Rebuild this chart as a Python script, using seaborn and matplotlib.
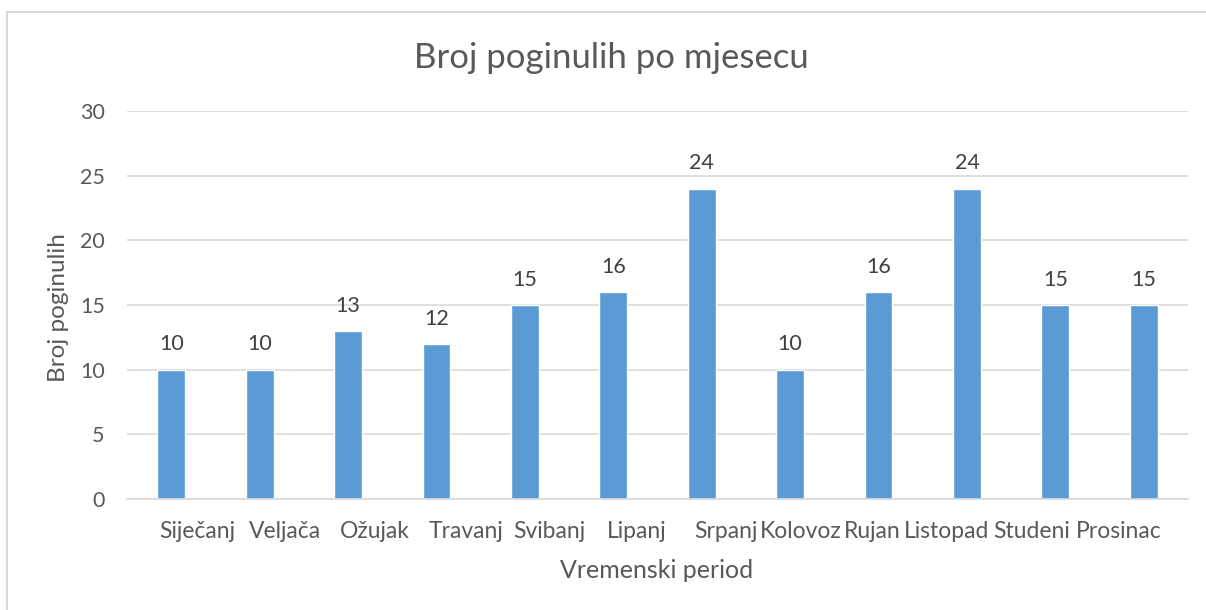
import numpy as np
import pandas as pd
import matplotlib
matplotlib.use("Agg")
import matplotlib.pyplot as plt
import matplotlib.transforms as mtransforms
from matplotlib.lines import Line2D
import seaborn as sns

# data
months = ["Siječanj", "Veljača", "Ožujak", "Travanj", "Svibanj", "Lipanj",
          "Srpanj", "Kolovoz", "Rujan", "Listopad", "Studeni", "Prosinac"]
deaths = [10, 10, 13, 12, 15, 16, 24, 10, 16, 24, 15, 15]

# horizontal shift of each month label (px), Excel squeezed them oddly
label_shift = [26, 25, 27, 30, 24, 23, 24, 11, -6, -20, -24, -25]

sns.set_theme(style="white")
plt.rcParams["font.family"] = ["Lato", "DejaVu Sans"]
txt = "#595959"
grid = "#d9d9d9"

df = pd.DataFrame({"mjesec": months, "broj": deaths})

fig = plt.figure(figsize=(12.06, 6.10), dpi=100)
ax = fig.add_axes([127 / 1206, 1 - 499 / 610, (1188 - 127) / 1206, 388 / 610])

sns.barplot(data=df, x="mjesec", y="broj", color="#5b9bd5", width=0.315,
            saturation=1, ax=ax)
ax.bar_label(ax.containers[0], padding=11, fontsize=15.5, color="#404040")

ax.set_xlim(-0.5, 11.5)
ax.set_ylim(0, 30)
ax.set_yticks(np.arange(0, 31, 5))
ax.yaxis.grid(True, color=grid, linewidth=1.2)
ax.set_axisbelow(True)
for s in ["top", "right", "left"]:
    ax.spines[s].set_visible(False)
ax.spines["bottom"].set_color(grid)
ax.spines["bottom"].set_linewidth(1.2)

ax.tick_params(axis="both", length=0, labelsize=15.5, labelcolor=txt)
ax.tick_params(axis="x", pad=16, labelsize=16.5)
ax.tick_params(axis="y", pad=16)
for lbl, dx in zip(ax.get_xticklabels(), label_shift):
    lbl.set_transform(lbl.get_transform() +
                      mtransforms.ScaledTranslation(dx / 100, 0, fig.dpi_scale_trans))

ax.set_xlabel("Vremenski period", fontsize=18, color=txt)
ax.xaxis.set_label_coords((657 - 127) / 1061, (499 - 570) / 388)
ax.xaxis.label.set_va("center")
ax.set_ylabel("Broj poginulih", fontsize=17.5, color=txt)
ax.yaxis.set_label_coords((58 - 127) / 1061, (499 - 308) / 388)
ax.yaxis.label.set_va("center")

fig.text(611 / 1206, 1 - 58 / 610, "Broj poginulih po mjesecu", fontsize=25,
         color=txt, ha="center", va="center")

# chart frame
fig.add_artist(Line2D([6.5 / 1206, 6.5 / 1206], [0, 1 - 12 / 610],
                      transform=fig.transFigure, color=grid, linewidth=1.5))
fig.add_artist(Line2D([6.5 / 1206, 1], [1 - 12 / 610, 1 - 12 / 610],
                      transform=fig.transFigure, color=grid, linewidth=1.5))

fig.savefig("out.png", dpi=100)
